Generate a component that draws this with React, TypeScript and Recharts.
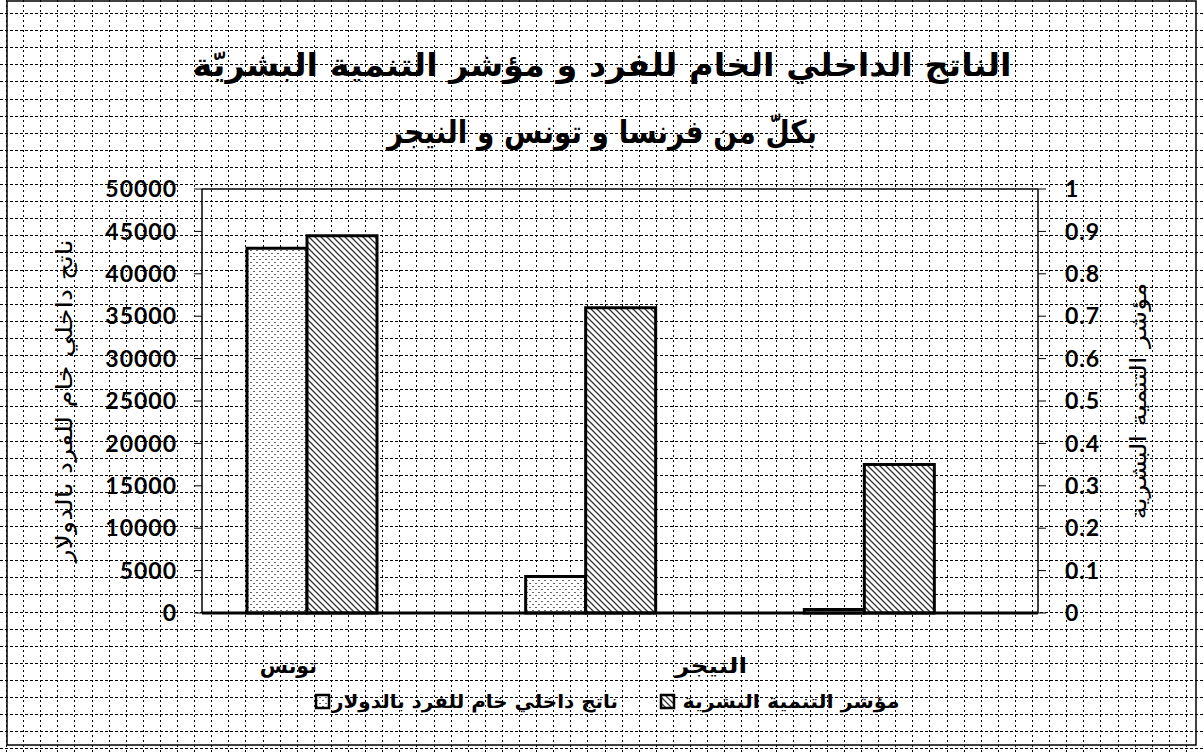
import { ComposedChart, Bar, XAxis, YAxis, ReferenceLine } from 'recharts'

const W = 1204
const H = 752

const CATEGORIES = ['تونس', 'النيجر', '']
const GDP_PER_CAPITA = [43000, 4300, 400]
const HDI = [0.89, 0.72, 0.35]
// third, empty series: Excel reserves its slot next to the two visible bars
const EMPTY_SERIES: (number | null)[] = [null, null, null]
const GDP_TICKS = [0, 5000, 10000, 15000, 20000, 25000, 30000, 35000, 40000, 45000, 50000]
const HDI_TICKS = [0, 0.1, 0.2, 0.3, 0.4, 0.5, 0.6, 0.7, 0.8, 0.9, 1]

const TITLE_1 = 'الناتج الداخلي الخام للفرد و مؤشر التنمية البشريّة'
const TITLE_2 = 'بكلّ من فرنسا و تونس و النيجر'
const GDP_NAME = 'ناتج داخلي خام للفرد بالدولار'
const HDI_NAME = 'مؤشر التنمية البشرية'

const ARABIC = "'DejaVu Sans', sans-serif"
const NUM_FONT = "Lato, 'Open Sans', sans-serif"
const LABEL_SHIFT = [-53, 91, 0]
const LABEL_WIDTH = [57, 72, 0]

// squared paper behind the chart
const GRID_STEP = 17.1
const gridRows = Array.from({ length: 44 }, (_, k) => Math.round(13 + k * GRID_STEP) + 0.5)
const gridCols = Array.from({ length: 70 }, (_, k) => Math.round(6 + k * GRID_STEP) + 0.5)

const rows = CATEGORIES.map((label, i) => ({
  label,
  gdp: GDP_PER_CAPITA[i],
  hdi: HDI[i],
  empty: EMPTY_SERIES[i],
}))

function CategoryTick({ x, payload, index }: any) {
  if (!payload.value) return null
  return (
    <text
      x={x + LABEL_SHIFT[index]}
      y={673}
      textAnchor="middle"
      fontFamily={ARABIC}
      fontWeight={700}
      fontSize={21}
      fill="#000"
      textLength={LABEL_WIDTH[index]}
      lengthAdjust="spacingAndGlyphs"
    >
      {payload.value}
    </text>
  )
}

function NumTick({ x, y, payload, anchor }: any) {
  return (
    <text x={x} y={y} dy="0.36em" textAnchor={anchor} fontFamily={NUM_FONT} fontWeight={700} fontSize={23} letterSpacing={1} fill="#000">
      {payload.value}
    </text>
  )
}

function Background() {
  return (
    <svg width={W} height={H} style={{ position: 'absolute', left: 0, top: 0 }}>
      <defs>
        <pattern id="dotFill" width={6} height={6} patternUnits="userSpaceOnUse">
          <rect width={6} height={6} fill="#fff" />
          <rect x={1} y={1} width={2} height={1} fill="#666" />
          <rect x={4} y={4} width={2} height={1} fill="#666" />
        </pattern>
        <pattern id="hatchFill" width={6} height={6} patternUnits="userSpaceOnUse">
          <rect width={6} height={6} fill="#fff" />
          <path d="M0,0 L6,6 M-1,5 L1,7 M5,-1 L7,1" stroke="#333" strokeWidth={1.3} />
        </pattern>
      </defs>
      <rect width={W} height={H} fill="#fff" />
      <g stroke="#000" strokeWidth={1} shapeRendering="crispEdges">
        {gridRows.map((y) => (
          <line key={'r' + y} x1={0} y1={y} x2={W} y2={y} strokeDasharray="3 2" />
        ))}
        {gridCols.map((x) => (
          <line key={'c' + x} x1={x} y1={0} x2={x} y2={H} strokeDasharray="2 3" />
        ))}
      </g>
      <rect x={7} y={1} width={1189} height={744} fill="none" stroke="#000" strokeWidth={1.5} />
    </svg>
  )
}

function Overlay() {
  return (
    <svg width={W} height={H} style={{ position: 'absolute', left: 0, top: 0, pointerEvents: 'none' }}>
      <g fontFamily={ARABIC} fill="#000">
        <text x={602} y={76} textAnchor="middle" fontWeight={700} fontSize={32} textLength={819} lengthAdjust="spacingAndGlyphs">
          {TITLE_1}
        </text>
        <text x={602} y={143} textAnchor="middle" fontWeight={700} fontSize={32} textLength={430} lengthAdjust="spacingAndGlyphs">
          {TITLE_2}
        </text>
        <text transform="translate(72,401) rotate(-90)" textAnchor="middle" fontSize={22} textLength={323} lengthAdjust="spacingAndGlyphs">
          {GDP_NAME}
        </text>
        <text transform="translate(1146,401) rotate(-90)" textAnchor="middle" fontSize={22} textLength={237} lengthAdjust="spacingAndGlyphs">
          {HDI_NAME}
        </text>
        <rect x={316} y={695} width={13} height={13} fill="url(#dotFill)" stroke="#000" strokeWidth={2.5} />
        <text x={475} y={708} textAnchor="middle" fontWeight={700} fontSize={19} textLength={286} lengthAdjust="spacingAndGlyphs">
          {GDP_NAME}
        </text>
        <rect x={661} y={695} width={13} height={13} fill="url(#hatchFill)" stroke="#000" strokeWidth={2.5} />
        <text x={791} y={708} textAnchor="middle" fontWeight={700} fontSize={19} textLength={217} lengthAdjust="spacingAndGlyphs">
          {HDI_NAME}
        </text>
      </g>
    </svg>
  )
}

export default function App() {
  return (
    <div style={{ position: 'absolute', left: 0, top: 0, width: W, height: H, overflow: 'hidden' }}>
      <Background />
      <div style={{ position: 'absolute', left: 0, top: 0 }}>
        <ComposedChart width={W} height={H} data={rows} margin={{ top: 189, right: 0, bottom: 0, left: 0 }} barGap={0}>
          <YAxis
            yAxisId="left"
            domain={[0, 50000]}
            ticks={GDP_TICKS}
            width={202}
            axisLine={{ stroke: '#000', strokeWidth: 1.5 }}
            tickLine={{ stroke: '#000' }}
            tickSize={8}
            tickMargin={17}
            tick={<NumTick anchor="end" />}
          />
          <YAxis
            yAxisId="right"
            orientation="right"
            domain={[0, 1]}
            ticks={HDI_TICKS}
            width={166}
            axisLine={{ stroke: '#000', strokeWidth: 1.5 }}
            tickLine={{ stroke: '#000' }}
            tickSize={8}
            tickMargin={19}
            tick={<NumTick anchor="start" />}
          />
          <ReferenceLine yAxisId="left" y={50000} stroke="#000" strokeWidth={1.5} />
          <Bar yAxisId="left" dataKey="gdp" name={GDP_NAME} barSize={60} fill="url(#dotFill)" stroke="#000" strokeWidth={3} isAnimationActive={false} />
          <Bar yAxisId="right" dataKey="hdi" name={HDI_NAME} barSize={70} fill="url(#hatchFill)" stroke="#000" strokeWidth={3} isAnimationActive={false} />
          <Bar yAxisId="right" dataKey="empty" barSize={58} fill="none" isAnimationActive={false} />
          <XAxis
            dataKey="label"
            height={139}
            axisLine={{ stroke: '#000', strokeWidth: 3 }}
            tickLine={false}
            interval={0}
            tick={<CategoryTick />}
          />
        </ComposedChart>
      </div>
      <Overlay />
    </div>
  )
}
